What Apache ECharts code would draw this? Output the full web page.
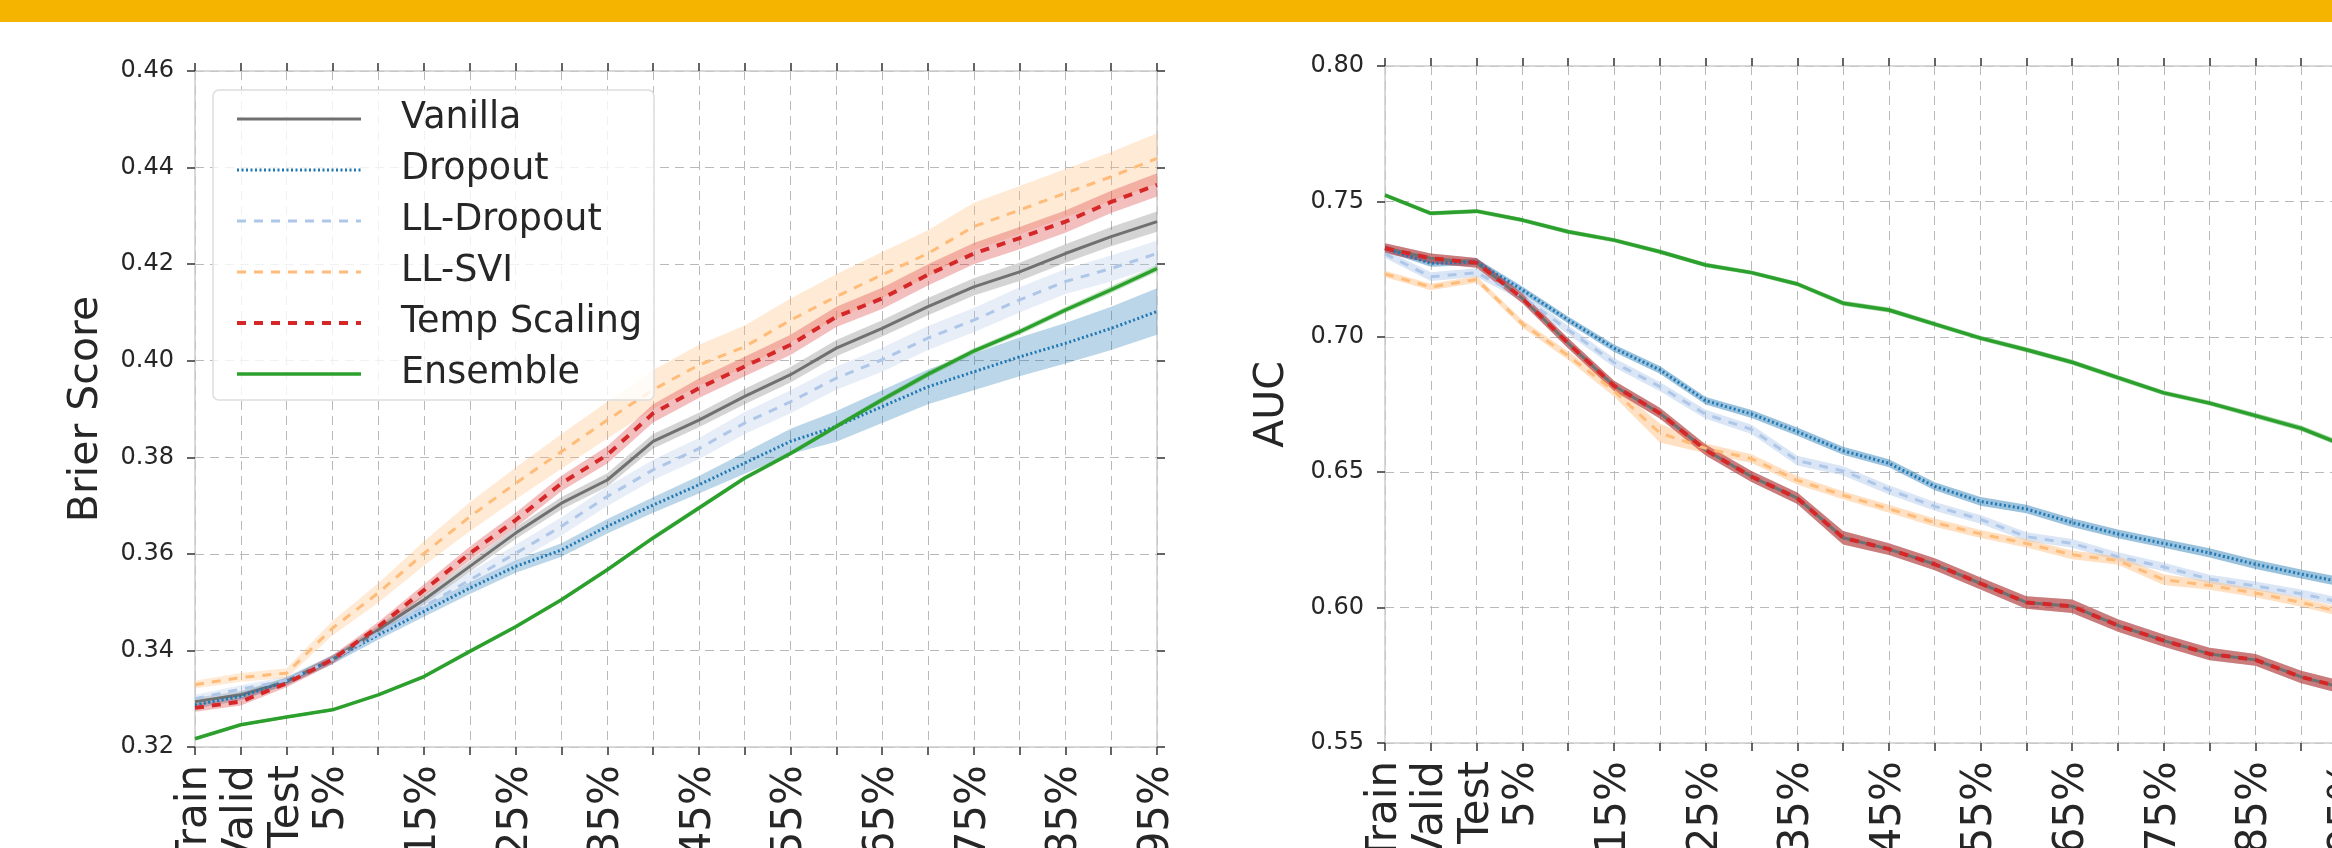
<!DOCTYPE html>
<html>
<head>
<meta charset="utf-8">
<title>Brier Score and AUC under dataset shift</title>
<script src="https://cdn.jsdelivr.net/npm/echarts@6/dist/echarts.min.js"></script>
<style>
  html, body { margin: 0; padding: 0; background: #ffffff; overflow: hidden; }
  #chart { position: absolute; left: 0; top: 0; width: 2332px; height: 848px; }
</style>
</head>
<body>
<div id="chart"></div>
<script>
// Evaluation splits followed by increasing amounts of shift
const categories = ['Train', 'Valid', 'Test', '5%', '10%', '15%', '20%', '25%', '30%', '35%', '40%',
  '45%', '50%', '55%', '60%', '65%', '70%', '75%', '80%', '85%', '90%', '95%'];

const methodNames = ['Vanilla', 'Dropout', 'LL-Dropout', 'LL-SVI', 'Temp Scaling', 'Ensemble'];

// Brier score (mean and standard deviation per split)
const vanillaBrier   = [0.3294, 0.3308, 0.3336, 0.3381, 0.3443, 0.3505, 0.3574, 0.3643, 0.3705, 0.3753, 0.3833, 0.3877, 0.3926, 0.3971, 0.4026, 0.4067, 0.4112, 0.4153, 0.4184, 0.4222, 0.4257, 0.4288];
const dropoutBrier   = [0.3287, 0.3305, 0.3336, 0.3381, 0.3432, 0.3481, 0.3529, 0.3574, 0.3608, 0.3657, 0.3701, 0.3743, 0.3788, 0.3833, 0.3864, 0.3905, 0.3946, 0.3977, 0.4008, 0.4036, 0.4067, 0.4102];
const llDropoutBrier = [0.3300, 0.3320, 0.3338, 0.3381, 0.3436, 0.3491, 0.3546, 0.3601, 0.3657, 0.3719, 0.3774, 0.3818, 0.3871, 0.3915, 0.3964, 0.4002, 0.4047, 0.4084, 0.4126, 0.4164, 0.4191, 0.4222];
const llSviBrier     = [0.3329, 0.3344, 0.3353, 0.3446, 0.3519, 0.3601, 0.3677, 0.3746, 0.3812, 0.3877, 0.3940, 0.3991, 0.4029, 0.4084, 0.4133, 0.4178, 0.4222, 0.4278, 0.4312, 0.4347, 0.4381, 0.4419];
const tempBrier      = [0.3281, 0.3294, 0.3332, 0.3381, 0.3449, 0.3525, 0.3601, 0.3670, 0.3746, 0.3805, 0.3891, 0.3943, 0.3988, 0.4033, 0.4091, 0.4129, 0.4178, 0.4222, 0.4254, 0.4288, 0.4329, 0.4364];
const ensembleBrier  = [0.3217, 0.3246, 0.3262, 0.3277, 0.3308, 0.3346, 0.3398, 0.3449, 0.3505, 0.3567, 0.3633, 0.3695, 0.3757, 0.3808, 0.3864, 0.3919, 0.3972, 0.4020, 0.4060, 0.4105, 0.4147, 0.4191];

const vanillaBrierSd   = [0.0008, 0.0008, 0.0008, 0.0008, 0.0009, 0.0010, 0.0011, 0.0012, 0.0013, 0.0014, 0.0015, 0.0015, 0.0016, 0.0016, 0.0017, 0.0017, 0.0018, 0.0018, 0.0019, 0.0019, 0.0020, 0.0021];
const dropoutBrierSd   = [0.0008, 0.0008, 0.0008, 0.0009, 0.0010, 0.0011, 0.0012, 0.0013, 0.0014, 0.0015, 0.0016, 0.0018, 0.0022, 0.0026, 0.0032, 0.0034, 0.0036, 0.0038, 0.0040, 0.0042, 0.0045, 0.0048];
const llDropoutBrierSd = [0.0008, 0.0008, 0.0008, 0.0010, 0.0012, 0.0014, 0.0016, 0.0018, 0.0019, 0.0020, 0.0021, 0.0022, 0.0023, 0.0024, 0.0024, 0.0025, 0.0025, 0.0025, 0.0026, 0.0026, 0.0027, 0.0027];
const llSviBrierSd     = [0.0008, 0.0009, 0.0010, 0.0015, 0.0020, 0.0025, 0.0030, 0.0033, 0.0036, 0.0038, 0.0040, 0.0042, 0.0044, 0.0045, 0.0046, 0.0047, 0.0048, 0.0049, 0.0050, 0.0050, 0.0051, 0.0052];
const tempBrierSd      = [0.0008, 0.0008, 0.0008, 0.0009, 0.0010, 0.0012, 0.0014, 0.0015, 0.0016, 0.0018, 0.0019, 0.0020, 0.0020, 0.0021, 0.0021, 0.0022, 0.0022, 0.0022, 0.0023, 0.0023, 0.0023, 0.0024];
const ensembleBrierSd  = [0.0003, 0.0003, 0.0003, 0.0003, 0.0003, 0.0004, 0.0004, 0.0004, 0.0004, 0.0004, 0.0005, 0.0005, 0.0005, 0.0005, 0.0005, 0.0006, 0.0006, 0.0006, 0.0006, 0.0006, 0.0007, 0.0007];

// AUC (mean and standard deviation per split)
const vanillaAuc   = [0.7327, 0.7290, 0.7273, 0.7142, 0.6976, 0.6819, 0.6718, 0.6582, 0.6484, 0.6404, 0.6258, 0.6216, 0.6160, 0.6089, 0.6019, 0.6005, 0.5934, 0.5878, 0.5829, 0.5807, 0.5744, 0.5700];
const dropoutAuc   = [0.7327, 0.7271, 0.7277, 0.7173, 0.7062, 0.6958, 0.6878, 0.6764, 0.6715, 0.6650, 0.6579, 0.6533, 0.6448, 0.6392, 0.6364, 0.6314, 0.6272, 0.6237, 0.6202, 0.6160, 0.6124, 0.6090];
const llDropoutAuc = [0.7306, 0.7222, 0.7237, 0.7148, 0.7025, 0.6905, 0.6816, 0.6714, 0.6658, 0.6543, 0.6505, 0.6435, 0.6374, 0.6326, 0.6262, 0.6237, 0.6188, 0.6150, 0.6105, 0.6080, 0.6051, 0.6015];
const llSviAuc     = [0.7232, 0.7184, 0.7212, 0.7048, 0.6930, 0.6800, 0.6645, 0.6588, 0.6550, 0.6470, 0.6415, 0.6365, 0.6314, 0.6272, 0.6237, 0.6195, 0.6174, 0.6103, 0.6082, 0.6054, 0.6019, 0.5978];
const tempAuc      = [0.7327, 0.7290, 0.7273, 0.7142, 0.6976, 0.6819, 0.6718, 0.6582, 0.6484, 0.6404, 0.6258, 0.6216, 0.6160, 0.6089, 0.6019, 0.6005, 0.5934, 0.5878, 0.5829, 0.5807, 0.5744, 0.5700];
const ensembleAuc  = [0.7523, 0.7456, 0.7464, 0.7431, 0.7388, 0.7357, 0.7314, 0.7265, 0.7237, 0.7195, 0.7124, 0.7099, 0.7047, 0.6995, 0.6952, 0.6906, 0.6849, 0.6793, 0.6755, 0.6709, 0.6662, 0.6595];

const vanillaAucSd   = [0.0018, 0.0018, 0.0018, 0.0018, 0.0019, 0.0019, 0.0020, 0.0020, 0.0020, 0.0021, 0.0025, 0.0022, 0.0022, 0.0022, 0.0023, 0.0025, 0.0023, 0.0023, 0.0023, 0.0022, 0.0023, 0.0024];
const dropoutAucSd   = [0.0012, 0.0012, 0.0012, 0.0013, 0.0013, 0.0014, 0.0014, 0.0014, 0.0015, 0.0015, 0.0015, 0.0015, 0.0015, 0.0016, 0.0016, 0.0016, 0.0016, 0.0016, 0.0017, 0.0017, 0.0017, 0.0017];
const llDropoutAucSd = [0.0015, 0.0016, 0.0016, 0.0016, 0.0016, 0.0017, 0.0017, 0.0017, 0.0017, 0.0018, 0.0017, 0.0017, 0.0016, 0.0016, 0.0016, 0.0016, 0.0016, 0.0016, 0.0016, 0.0016, 0.0016, 0.0016];
const llSviAucSd     = [0.0012, 0.0012, 0.0012, 0.0014, 0.0016, 0.0020, 0.0035, 0.0018, 0.0016, 0.0016, 0.0015, 0.0015, 0.0015, 0.0015, 0.0015, 0.0016, 0.0016, 0.0020, 0.0016, 0.0016, 0.0016, 0.0016];
const tempAucSd      = [0.0018, 0.0018, 0.0018, 0.0018, 0.0019, 0.0019, 0.0020, 0.0020, 0.0020, 0.0021, 0.0025, 0.0022, 0.0022, 0.0022, 0.0023, 0.0025, 0.0023, 0.0023, 0.0023, 0.0022, 0.0023, 0.0024];
const ensembleAucSd  = [0.0008, 0.0008, 0.0008, 0.0008, 0.0008, 0.0008, 0.0008, 0.0008, 0.0008, 0.0008, 0.0009, 0.0009, 0.0009, 0.0009, 0.0009, 0.0009, 0.0009, 0.0009, 0.0009, 0.0010, 0.0010, 0.0010];

// y-axis tick ranges
const brierTicks = { min: 0.32, max: 0.46, step: 0.02 };
const aucTicks   = { min: 0.55, max: 0.80, step: 0.05 };

// Line appearance per method
const styles = {
  'Vanilla':      { color: '#707070', width: 3,   type: 'solid' },
  'Dropout':      { color: '#1f77b4', width: 3,   type: [2, 2.5] },
  'LL-Dropout':   { color: '#aec7e8', width: 3,   type: [9, 8] },
  'LL-SVI':       { color: '#ffbb78', width: 3,   type: [9, 8] },
  'Temp Scaling': { color: '#d62728', width: 4,   type: [9, 8] },
  'Ensemble':     { color: '#2ca02c', width: 3.5, type: 'solid' }
};

const brierData = {
  'Vanilla': [vanillaBrier, vanillaBrierSd],
  'Dropout': [dropoutBrier, dropoutBrierSd],
  'LL-Dropout': [llDropoutBrier, llDropoutBrierSd],
  'LL-SVI': [llSviBrier, llSviBrierSd],
  'Temp Scaling': [tempBrier, tempBrierSd],
  'Ensemble': [ensembleBrier, ensembleBrierSd]
};
const aucData = {
  'Vanilla': [vanillaAuc, vanillaAucSd],
  'Dropout': [dropoutAuc, dropoutAucSd],
  'LL-Dropout': [llDropoutAuc, llDropoutAucSd],
  'LL-SVI': [llSviAuc, llSviAucSd],
  'Temp Scaling': [tempAuc, tempAucSd],
  'Ensemble': [ensembleAuc, ensembleAucSd]
};

const FONT = 'DejaVu Sans';
const TEXT = '#262626';
const SPINE = '#cccccc';
const TICK = '#333333';
const GRIDLINE = { color: '#b9b9b9', width: 1, type: [9, 6] };

function hexA(hex, a) {
  const n = parseInt(hex.slice(1), 16);
  return 'rgba(' + (n >> 16) + ',' + ((n >> 8) & 255) + ',' + (n & 255) + ',' + a + ')';
}

// shaded mean ± sd band, built as a stacked pair of line series
function bandSeries(panel, axisIdx, name, mean, sd, alpha) {
  const st = styles[name];
  const stack = panel + '-' + name;
  const lower = mean.map((m, i) => m - sd[i]);
  const span = sd.map(s => 2 * s);
  const base = {
    type: 'line', xAxisIndex: axisIdx, yAxisIndex: axisIdx, stack: stack,
    symbol: 'none', silent: true, z: 1, lineStyle: { opacity: 0, width: 0 }
  };
  return [
    Object.assign({}, base, { name: stack + '-lo', data: lower }),
    Object.assign({}, base, { name: stack + '-hi', data: span,
      areaStyle: { color: hexA(st.color, alpha), opacity: 1 } })
  ];
}

function meanSeries(axisIdx, name, mean) {
  const st = styles[name];
  return {
    type: 'line', name: name, xAxisIndex: axisIdx, yAxisIndex: axisIdx,
    data: mean, symbol: 'none', silent: true, z: 3,
    itemStyle: { color: st.color },
    lineStyle: { color: st.color, width: st.width, type: st.type, cap: 'butt' }
  };
}

const series = [];
[['brier', 0, brierData, 0.3], ['auc', 2, aucData, 0.45]].forEach(([panel, idx, table, alpha]) => {
  methodNames.forEach(n => series.push(...bandSeries(panel, idx, n, table[n][0], table[n][1], alpha)));
  methodNames.forEach(n => series.push(meanSeries(idx, n, table[n][0])));
});

const grids = [
  { left: 195, top: 71, width: 962, height: 676, containLabel: false, outerBoundsMode: 'none' },
  { left: 1385, top: 66, width: 962, height: 677, containLabel: false, outerBoundsMode: 'none' }
];

function bottomAxis(gridIndex) {
  return {
    type: 'category', gridIndex: gridIndex, data: categories, boundaryGap: false, position: 'bottom',
    axisLine: { show: true, lineStyle: { color: SPINE, width: 1.5 } },
    axisTick: { show: true, inside: false, length: 8, interval: 0, lineStyle: { color: TICK, width: 1.5 } },
    axisLabel: {
      show: true, rotate: 90, margin: 18, fontFamily: FONT, fontSize: 42, color: TEXT,
      hideOverlap: false,
      interval: (i) => i < 4 || i % 2 === 1
    },
    splitLine: { show: true, interval: 0, lineStyle: GRIDLINE }
  };
}
function topAxis(gridIndex) {
  return {
    type: 'category', gridIndex: gridIndex, data: categories, boundaryGap: false, position: 'top',
    axisLine: { show: true, lineStyle: { color: SPINE, width: 1.5 } },
    axisTick: { show: true, inside: false, length: 8, interval: 0, lineStyle: { color: TICK, width: 1.5 } },
    axisLabel: { show: false }, splitLine: { show: false }
  };
}
function leftAxis(gridIndex, t, title, gap) {
  return {
    type: 'value', gridIndex: gridIndex, min: t.min, max: t.max, interval: t.step, position: 'left',
    name: title, nameLocation: 'middle', nameGap: gap, nameRotate: 90,
    nameTextStyle: { fontFamily: FONT, fontSize: 41, color: TEXT },
    axisLine: { show: true, lineStyle: { color: SPINE, width: 1.5 } },
    axisTick: { show: true, inside: false, length: 8, lineStyle: { color: TICK, width: 1.5 } },
    axisLabel: { show: true, margin: 21, fontFamily: FONT, fontSize: 24, color: TEXT,
      formatter: v => v.toFixed(2) },
    splitLine: { show: true, lineStyle: GRIDLINE }
  };
}
function rightAxis(gridIndex, t) {
  return {
    type: 'value', gridIndex: gridIndex, min: t.min, max: t.max, interval: t.step, position: 'right',
    axisLine: { show: true, lineStyle: { color: SPINE, width: 1.5 } },
    axisTick: { show: true, inside: false, length: 8, lineStyle: { color: TICK, width: 1.5 } },
    axisLabel: { show: false }, splitLine: { show: false }
  };
}

const option = {
  animation: false,
  backgroundColor: '#ffffff',
  textStyle: { fontFamily: FONT },
  graphic: [{
    type: 'rect', left: 0, top: 0, z: 100,
    shape: { width: 2332, height: 22 },
    style: { fill: '#f5b400' }
  }],
  grid: grids,
  xAxis: [bottomAxis(0), topAxis(0), bottomAxis(1), topAxis(1)],
  yAxis: [leftAxis(0, brierTicks, 'Brier Score', 88), rightAxis(0, brierTicks),
          leftAxis(1, aucTicks, 'AUC', 92), rightAxis(1, aucTicks)],
  legend: {
    data: methodNames.map(n => ({
      name: n,
      lineStyle: { color: styles[n].color, width: styles[n].width, type: styles[n].type }
    })),
    orient: 'vertical',
    left: 213, top: 90,
    padding: [9, 12, 6, 22],
    itemGap: 11,
    itemWidth: 124, itemHeight: 2,
    itemStyle: { color: 'rgba(0,0,0,0)', borderColor: 'rgba(0,0,0,0)', borderWidth: 0 },
    backgroundColor: 'rgba(255,255,255,0.8)',
    borderColor: '#dddddd', borderWidth: 1.5, borderRadius: 6,
    selectedMode: false,
    textStyle: { fontFamily: FONT, fontSize: 36.5, color: TEXT, lineHeight: 40, padding: [0, 0, 0, 35] }
  },
  series: series
};

const chart = echarts.init(document.getElementById('chart'), null, { renderer: 'canvas' });
chart.setOption(option);
</script>
</body>
</html>
